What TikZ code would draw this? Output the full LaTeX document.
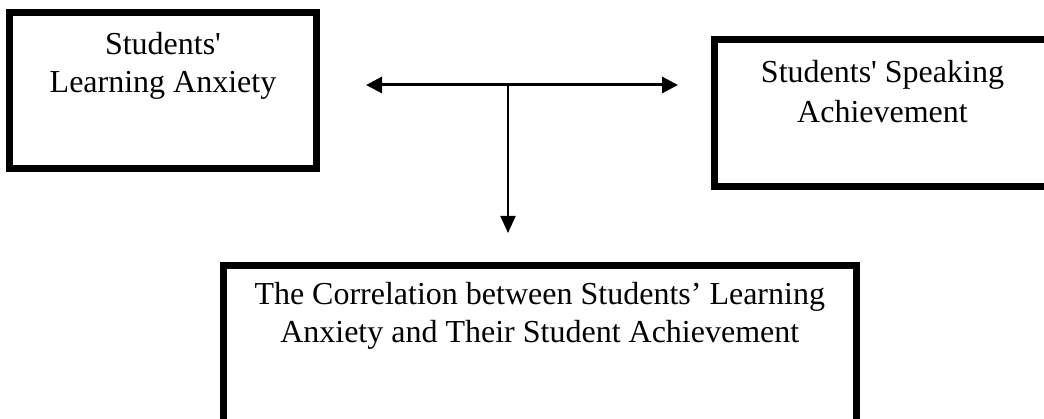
\documentclass[tikz,border=0pt]{standalone}
\usepackage{fontspec}
\setmainfont{Liberation Serif}
\usepackage{tikz}
\usetikzlibrary{arrows.meta, positioning, calc}

\begin{document}
\begin{tikzpicture}[x=1pt, y=-1pt, font=\fontsize{32}{38}\selectfont,
    BOX/.style={draw, line width=7pt, inner sep=0pt, align=center, anchor=north west,
        execute at begin node={\spaceskip=8pt\relax}},
    BIARR/.style={{Triangle[length=16pt,width=16pt]}-{Triangle[length=16pt,width=16pt]}, line width=3pt},
    DNARR/.style={-{Triangle[length=17pt,width=15pt]}, line width=2pt}]
    \clip (0,0) rectangle (1044,419);
    \node[BOX, text width=307pt, text height=42.5pt, text depth=113.5pt] (anxiety) at (6,9) {Students\textquotesingle\\Learning Anxiety};
    \node[BOX, text width=337pt, text height=43pt, text depth=103.5pt] (speaking) at (710.5,36.5) {Students\textquotesingle{} Speaking\\[2pt]Achievement};
    \node[BOX, text width=632.5pt, text height=39pt, text depth=120pt] (corr) at (220,262.5) {The Correlation between Students’ Learning\\Anxiety and Their Student Achievement};
    \coordinate (jn) at (508,85);
    \draw[BIARR, shorten <=46pt, shorten >=32.5pt] (anxiety.east |- jn) -- (speaking.west |- jn);
    \draw[DNARR, shorten >=29.5pt] (jn) -- (jn |- corr.north);
\end{tikzpicture}
\end{document}
